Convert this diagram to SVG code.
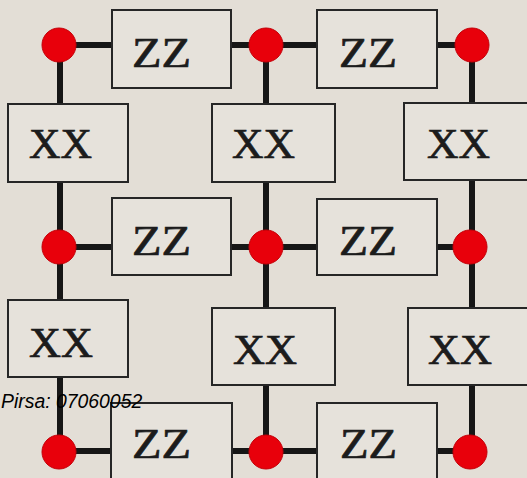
<svg xmlns="http://www.w3.org/2000/svg" width="527" height="478" viewBox="0 0 527 478">
<style>
.bg{fill:#e3ded6}
.box{fill:#e6e2db;stroke:#262626;stroke-width:2}
.lbl{font-family:"Liberation Serif","Times New Roman",serif;font-size:42px;fill:#1c1c1c;stroke:#1c1c1c;stroke-width:0.7}
.site{fill:#e8000b;stroke:#c40008;stroke-width:1}
.wire{stroke:#161616;stroke-width:6;fill:none}
.pirsa{font-family:"Liberation Sans",Arial,sans-serif;font-style:italic;font-size:19.4px;fill:#000}
</style>
<rect class="bg" x="0" y="0" width="527" height="478"/>
<g id="connectors">
<line class="wire" x1="59" y1="45" x2="472" y2="45"/>
<line class="wire" x1="59" y1="247" x2="472" y2="247"/>
<line class="wire" x1="59" y1="451" x2="472" y2="451"/>
<line class="wire" x1="60" y1="45" x2="60" y2="451"/>
<line class="wire" x1="266" y1="45" x2="266" y2="451"/>
<line class="wire" x1="472" y1="45" x2="472" y2="451"/>
</g>
<g id="zz11"><rect class="box" x="112" y="10" width="119" height="78"/><text class="lbl" x="132" y="67" textLength="59" lengthAdjust="spacingAndGlyphs">ZZ</text></g>
<g id="zz12"><rect class="box" x="317" y="10" width="120" height="78"/><text class="lbl" x="339" y="67" textLength="58" lengthAdjust="spacingAndGlyphs">ZZ</text></g>
<g id="xx11"><rect class="box" x="8" y="104" width="120" height="78"/><text class="lbl" x="29" y="158" textLength="63" lengthAdjust="spacingAndGlyphs">XX</text></g>
<g id="xx12"><rect class="box" x="212" y="104" width="123" height="78"/><text class="lbl" x="232" y="158" textLength="63" lengthAdjust="spacingAndGlyphs">XX</text></g>
<g id="xx13"><rect class="box" x="404" y="103" width="128" height="77"/><text class="lbl" x="427" y="158" textLength="63" lengthAdjust="spacingAndGlyphs">XX</text></g>
<g id="zz21"><rect class="box" x="112" y="198" width="119" height="77"/><text class="lbl" x="132" y="255" textLength="59" lengthAdjust="spacingAndGlyphs">ZZ</text></g>
<g id="zz22"><rect class="box" x="317" y="199" width="120" height="76"/><text class="lbl" x="339" y="255" textLength="58" lengthAdjust="spacingAndGlyphs">ZZ</text></g>
<g id="xx21"><rect class="box" x="8" y="300" width="120" height="77"/><text class="lbl" x="29" y="357" textLength="64" lengthAdjust="spacingAndGlyphs">XX</text></g>
<g id="xx22"><rect class="box" x="212" y="308" width="123" height="77"/><text class="lbl" x="233" y="364" textLength="64" lengthAdjust="spacingAndGlyphs">XX</text></g>
<g id="xx23"><rect class="box" x="408" y="308" width="124" height="77"/><text class="lbl" x="428" y="364" textLength="64" lengthAdjust="spacingAndGlyphs">XX</text></g>
<g id="zz31"><rect class="box" x="111" y="403" width="121" height="90"/><text class="lbl" x="132" y="458" textLength="59" lengthAdjust="spacingAndGlyphs">ZZ</text></g>
<g id="zz32"><rect class="box" x="317" y="403" width="120" height="90"/><text class="lbl" x="340" y="458" textLength="57" lengthAdjust="spacingAndGlyphs">ZZ</text></g>
<g id="q11"><circle class="site" cx="59" cy="45" r="17"/></g>
<g id="q12"><circle class="site" cx="266" cy="45" r="17"/></g>
<g id="q13"><circle class="site" cx="472" cy="45" r="17"/></g>
<g id="q21"><circle class="site" cx="59" cy="247" r="17"/></g>
<g id="q22"><circle class="site" cx="266" cy="247" r="17"/></g>
<g id="q23"><circle class="site" cx="470" cy="247" r="17"/></g>
<g id="q31"><circle class="site" cx="59" cy="452" r="17"/></g>
<g id="q32"><circle class="site" cx="266" cy="452" r="17"/></g>
<g id="q33"><circle class="site" cx="470" cy="452" r="17"/></g>
<text class="pirsa" x="1" y="408">Pirsa: 07060052</text>
</svg>
